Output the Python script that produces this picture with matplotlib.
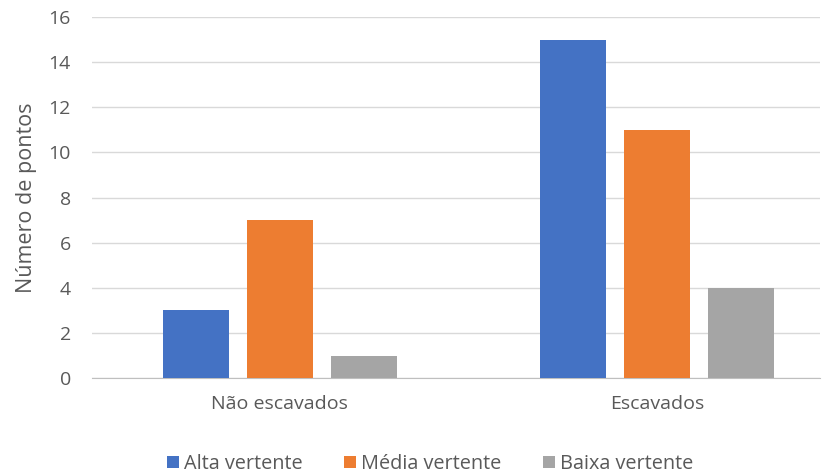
import numpy as np
import matplotlib.pyplot as plt

# Dados
categorias = ['Não escavados', 'Escavados']
series = ['Alta vertente', 'Média vertente', 'Baixa vertente']
alta = [3, 15]
media = [7, 11]
baixa = [1, 4]
cores = ['#4472C4', '#ED7D31', '#A5A5A5']

plt.rcParams['font.family'] = ['Open Sans', 'DejaVu Sans']
cinza = '#595959'

fig = plt.figure(figsize=(8.33, 4.75), dpi=100)
ax = fig.add_axes([0.110, 0.204, 0.874, 0.760])

x = np.arange(len(categorias))
largura = 0.175
desloc = 0.223
for i, (vals, nome) in enumerate(zip([alta, media, baixa], series)):
    ax.bar(x + (i - 1) * desloc, vals, largura, color=cores[i], label=nome, zorder=3)

ax.set_xlim(-0.499, 1.432)
ax.set_ylim(0, 16)
ax.set_yticks(range(0, 17, 2))
ax.set_xticks(x)
ax.set_xticklabels(categorias)
ax.yaxis.grid(True, color='#D9D9D9', linewidth=1)
ax.tick_params(axis='both', length=0, colors=cinza, labelsize=14)
ax.tick_params(axis='x', pad=12)
ax.tick_params(axis='y', pad=15)
for s in ['top', 'right', 'left']:
    ax.spines[s].set_visible(False)
ax.spines['bottom'].set_color('#BFBFBF')
ax.set_ylabel('Número de pontos', color=cinza, fontsize=15.5, labelpad=8)

ax.legend(loc='lower center', bbox_to_anchor=(0.465, -0.315), ncol=3, frameon=False,
          fontsize=14.3, labelcolor=cinza, handlelength=0.6, handleheight=0.6,
          handletextpad=0.25, columnspacing=2.1)

fig.savefig('out.png', dpi=100)
